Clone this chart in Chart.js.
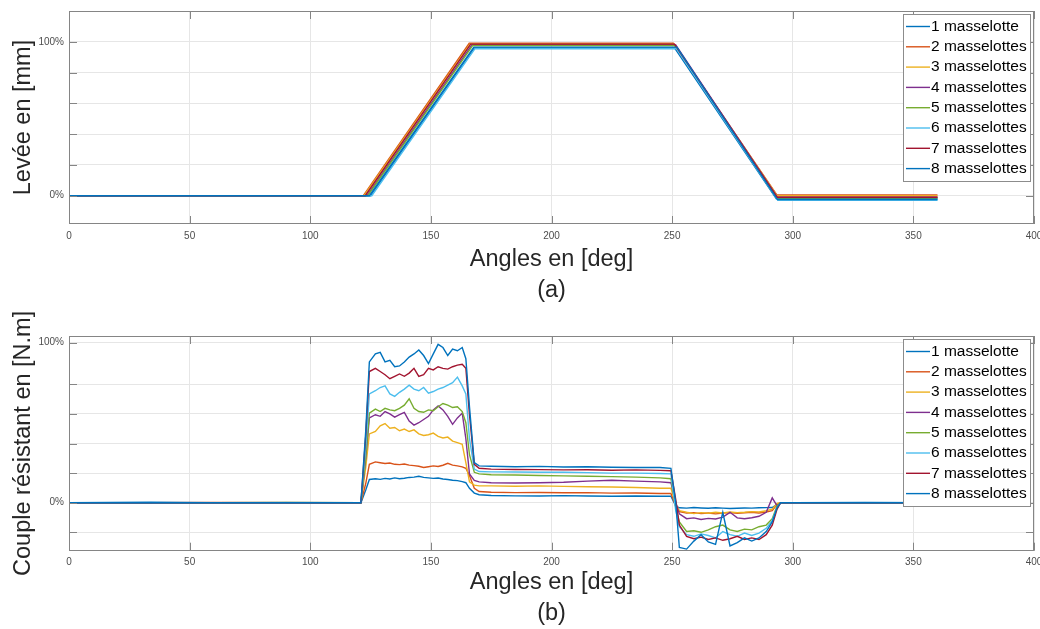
<!DOCTYPE html>
<html>
<head>
<meta charset="utf-8">
<script src="https://cdn.jsdelivr.net/npm/chart.js@4.4.0/dist/chart.umd.min.js"></script>
<style>
  html, body { margin: 0; padding: 0; background: #fff; }
  body { width: 1040px; height: 629px; position: relative; overflow: hidden; }
  canvas { position: absolute; left: 0; }
  #liftChart { top: 0; }
  #torqueChart { top: 290px; }
</style>
</head>
<body>
<canvas id="liftChart" width="1040" height="315"></canvas>
<canvas id="torqueChart" width="1040" height="339"></canvas>
<script>
const seriesNames = ['1 masselotte', '2 masselottes', '3 masselottes', '4 masselottes',
  '5 masselottes', '6 masselottes', '7 masselottes', '8 masselottes'];
const seriesColors = ['#0072BD', '#D95319', '#EDB120', '#7E2F8E', '#77AC30', '#4DBEEE', '#A2142F', '#0072BD'];

// (a) levée, en % : angles des cassures et niveaux de chaque courbe
const riseStart = [125, 122, 122.3, 123.5, 123.8, 125.5, 122.8, 124.5];
const riseEnd   = [168, 165.9, 166.2, 167, 167.3, 168.3, 166.5, 167.8];
const topLevel  = [96, 99, 98.5, 98, 97.5, 95.5, 98.5, 96.5];
const fallStart = [251, 250.5, 250.8, 251.5, 251.2, 251.8, 251, 252];
const fallEnd   = [293.2, 293.4, 293.5, 293.6, 293.3, 293.8, 293.5, 293.7];
const endLevel  = [-2, 0.5, 0, -1, -1.5, -3, -1, -2.5];
const liftFirstAngle = 0;
const liftLastAngle = 360;

// (b) couple résistant, en %
const torqueAngles = [0, 34, 60, 90, 121,
  123, 124.5, 127, 129, 131, 133, 135, 137, 139, 141, 143, 145, 147, 149, 151,
  153, 155, 157, 159, 161, 163, 164.5, 166, 168, 170,
  175, 185, 195, 205, 215, 225, 235, 245, 249.5, 251.5, 253,
  256, 259, 262, 265, 268, 271, 274, 277, 280, 283, 286, 289, 291.5, 293.5, 295,
  300, 330, 360];
const torque1 = [0, 0.3, 0, 0.2, 0,
  8, 14.5, 15, 14.6, 15.2, 14.8, 15.5, 15, 15.3, 15.8, 16, 16.5, 15.8, 15.5, 15.2,
  15.4, 14.8, 14.5, 14, 13.8, 13.2, 12.5, 9, 6, 5,
  4.5, 4.3, 4.2, 4.4, 4.2, 4, 4.2, 4, 4, -2, -3.2,
  -3.4, -3, -3.3, -3.5, -3.2, -3.4, -3.6, -3.5, -3.3, -3.4, -3.2, -3.1, -3, -1, 0,
  0, 0.2, 0];
const torque2 = [0, 0, 0.2, 0, 0,
  12, 24, 25.5, 25, 24.5, 24.8, 24, 23.8, 24.2, 23.5, 23.2, 22.8, 22, 22.5, 23,
  22.6, 23.4, 24.6, 23.5, 23, 22.4, 21.5, 17, 9, 7,
  6.5, 6.3, 6.4, 6.2, 6.3, 6, 6.1, 5.8, 5.8, -2, -5.5,
  -6.5, -6.2, -6.8, -6.4, -7, -6.5, -6.2, -6.6, -6.3, -6, -6.4, -5.8, -5, -1, 0,
  0, 0, 0];
const torque3 = [0, 0, 0, 0.2, 0,
  22, 43, 44.5, 48, 49.5, 46.5, 47, 45, 46, 44.5, 45.5, 43, 42, 42.5, 43.5,
  41.5, 40.5, 41, 38.5, 37.5, 36.5, 25, 13, 11, 10.5,
  10.5, 10.3, 10.5, 10.2, 10, 9.8, 9.5, 9, 9, -1, -5,
  -6, -6.8, -6.2, -6.6, -6, -6.4, -5.8, -6.2, -6, -5.6, -5.8, -5, -4, -0.5, 0,
  0, 0, 0];
const torque4 = [0, 0, 0, 0, 0,
  28, 53, 55, 54, 57, 55.5, 53.5, 55, 56.5, 51, 48.5, 50, 52, 54, 58,
  60.5, 58, 54, 49, 53, 56, 40, 18, 14, 13,
  12.5, 12.3, 12.5, 12.8, 13.5, 14, 13.5, 13, 12.5, 0, -7,
  -10, -9.5, -10.5, -9.8, -10.2, -9, -6, -9.5, -10, -9.4, -8.5, -6, 3, -2, 0,
  0, 0, 0];
const torque5 = [0, 0, 0, 0, 0,
  29, 56, 58.5, 57, 59, 58, 57.5, 59, 61, 65, 59, 57, 56.5, 58, 57.5,
  60, 62, 61, 59.5, 60, 57, 50, 30, 19, 18,
  17.5, 17.3, 17, 16.8, 16.5, 16.3, 16, 15.5, 15, -3, -12,
  -18, -17.5, -18.5, -17, -15, -14, -17, -18, -16.5, -17, -15, -14, -10, -2, 0,
  0, 0, 0];
const torque6 = [0, 0, 0, 0, 0,
  35, 68, 70, 72, 73, 68, 66.5, 69, 71, 73.5, 71, 70, 72, 68.5, 69.5,
  71, 72, 73.5, 75, 78.5, 73, 68, 40, 21, 19.5,
  19.3, 19.2, 19, 19, 18.8, 18.5, 18.5, 18.3, 18, -5, -15,
  -20, -21, -19.5, -20.5, -22, -18, -20, -21, -19, -20.5, -19, -16, -11, -3, 0,
  0, 0, 0];
const torque7 = [0, 0, 0, 0, 0,
  42, 82, 84, 82, 80, 77.5, 79, 80.5, 79, 81, 84, 79, 80, 84, 83,
  85, 84, 83.5, 85, 86, 86.5, 84, 55, 24, 21.5,
  21, 20.8, 20.7, 20.5, 20.6, 20.3, 20.5, 20.2, 20, 2, -14,
  -21, -22.5, -21.5, -23, -22, -23.5, -22.5, -21, -23, -22, -23, -20, -14, -4, 0,
  0, 0, 0];
const torque8 = [0, 0, 0, 0, 0,
  45, 88, 93, 94, 88, 89, 85, 85.5, 88, 91, 93, 95.5, 92, 87, 93,
  99, 97, 92, 96, 95, 97, 90, 60, 25, 23,
  22.8, 22.5, 22.7, 22.3, 22.5, 22.2, 22, 22, 21.5, 0, -28,
  -29, -24, -20, -24.5, -26, -6, -27, -25, -22, -24, -22, -18, -12, -3, 0,
  0, 0, 0];
const torqueSeries = [torque1, torque2, torque3, torque4, torque5, torque6, torque7, torque8];

// ticks
const xTicks = [0, 50, 100, 150, 200, 250, 300, 350, 400];
const liftTicks = [0, 20, 40, 60, 80, 100];
const torqueTicks = [-18.5, 0, 18.5, 37, 55.5, 74, 100];
const percentLabels = { 0: '0%', 100: '100%' };

const FONT = '"Liberation Sans", Arial, Helvetica, sans-serif';
const GRID = '#e6e6e6';
const AXIS = '#858585';
const TICK_TEXT = '#4d4d4d';
const TITLE_TEXT = '#262626';

function liftPoints(i) {
  return [
    { x: liftFirstAngle, y: 0 },
    { x: riseStart[i], y: 0 },
    { x: riseEnd[i], y: topLevel[i] },
    { x: fallStart[i], y: topLevel[i] },
    { x: fallEnd[i], y: endLevel[i] },
    { x: liftLastAngle, y: endLevel[i] }
  ];
}

function torquePoints(i) {
  return torqueAngles.map((a, k) => ({ x: a, y: torqueSeries[i][k] }));
}

// cadre + graduations vers l'intérieur (style MATLAB)
const framePlugin = {
  id: 'frame',
  afterDatasetsDraw(chart) {
    const { ctx, chartArea: a, scales } = chart;
    const len = 8;
    ctx.save();
    ctx.strokeStyle = AXIS;
    ctx.lineWidth = 1;
    ctx.beginPath();
    scales.x.ticks.forEach(t => {
      const px = Math.round(scales.x.getPixelForValue(t.value)) + 0.5;
      ctx.moveTo(px, a.bottom); ctx.lineTo(px, a.bottom - len);
      ctx.moveTo(px, a.top); ctx.lineTo(px, a.top + len);
    });
    scales.y.ticks.forEach(t => {
      const py = Math.round(scales.y.getPixelForValue(t.value)) + 0.5;
      ctx.moveTo(a.left, py); ctx.lineTo(a.left + len, py);
      ctx.moveTo(a.right, py); ctx.lineTo(a.right - len, py);
    });
    ctx.stroke();
    ctx.strokeRect(Math.round(a.left) + 0.5, Math.round(a.top) + 0.5,
      Math.round(a.width) - 1, Math.round(a.height) - 1);
    ctx.restore();
  }
};

// légende encadrée en haut à droite
const boxLegend = {
  id: 'boxLegend',
  afterDraw(chart) {
    const { ctx, chartArea: a } = chart;
    const w = 127, h = 167, rowH = 20.3;
    const left = Math.round(a.right - 4.5 - w), top = Math.round(a.top + 2.5);
    ctx.save();
    ctx.fillStyle = '#fff';
    ctx.fillRect(left, top, w, h);
    ctx.strokeStyle = '#8c8c8c';
    ctx.lineWidth = 1;
    ctx.strokeRect(left + 0.5, top + 0.5, w, h);
    ctx.font = '15.5px ' + FONT;
    ctx.textBaseline = 'middle';
    seriesNames.forEach((name, i) => {
      const y = top + 12.5 + i * rowH;
      ctx.strokeStyle = seriesColors[i];
      ctx.lineWidth = 1.4;
      ctx.beginPath();
      ctx.moveTo(left + 3, y);
      ctx.lineTo(left + 27, y);
      ctx.stroke();
      ctx.fillStyle = '#000';
      ctx.fillText(name, left + 28, y);
    });
    ctx.restore();
  }
};

function makeChart(id, opts) {
  const datasets = seriesNames.map((name, i) => ({
    label: name,
    data: opts.points(i),
    borderColor: seriesColors[i],
    borderWidth: 1.4,
    pointRadius: 0,
    tension: 0,
    fill: false,
    order: 7 - i
  }));

  return new Chart(document.getElementById(id), {
    type: 'line',
    data: { datasets },
    options: {
      responsive: false,
      animation: false,
      layout: { padding: { top: opts.padTop, right: 6, bottom: 0, left: 0 } },
      plugins: { legend: { display: false }, tooltip: { enabled: false } },
      scales: {
        x: {
          type: 'linear',
          min: 0,
          max: 400,
          afterBuildTicks: (s) => { s.ticks = xTicks.map(v => ({ value: v })); },
          grid: { color: GRID, drawTicks: false },
          border: { display: false },
          ticks: {
            padding: 6,
            color: TICK_TEXT,
            autoSkip: false,
            maxRotation: 0,
            font: { family: FONT, size: 10 }
          },
          title: {
            display: true,
            text: ['Angles en [deg]', opts.tag],
            color: TITLE_TEXT,
            font: { family: FONT, size: 23.5, lineHeight: 1.32 },
            padding: { top: 0, bottom: opts.titlePad }
          },
          afterFit: (s) => {
            s.height = opts.xAxisHeight;
            s.paddingLeft = 0;
            s.paddingRight = 0;
          }
        },
        y: {
          type: 'linear',
          min: opts.yMin,
          max: opts.yMax,
          afterBuildTicks: (s) => { s.ticks = opts.yTicks.map(v => ({ value: v })); },
          grid: { color: GRID, drawTicks: false },
          border: { display: false },
          ticks: {
            padding: 5,
            color: TICK_TEXT,
            autoSkip: false,
            font: { family: FONT, size: 10 },
            callback: (v) => percentLabels[v] || ''
          },
          title: {
            display: true,
            text: opts.yTitle,
            color: TITLE_TEXT,
            font: { family: FONT, size: 23.5, lineHeight: 1.2 },
            padding: { top: 9.4, bottom: 0 }
          },
          afterFit: (s) => {
            s.width = 69;
            s.paddingTop = 0;
            s.paddingBottom = 0;
          }
        }
      }
    },
    plugins: [framePlugin, boxLegend]
  });
}

makeChart('liftChart', {
  points: liftPoints,
  yMin: -18.4, yMax: 120,
  yTicks: liftTicks,
  yTitle: 'Levée en [mm]',
  tag: '(a)',
  padTop: 11,
  xAxisHeight: 91,
  titlePad: 9
});

makeChart('torqueChart', {
  points: torquePoints,
  yMin: -30, yMax: 104.2,
  yTicks: torqueTicks,
  yTitle: 'Couple résistant en [N.m]',
  tag: '(b)',
  padTop: 46,
  xAxisHeight: 78.3,
  titlePad: 0
});
</script>
</body>
</html>
